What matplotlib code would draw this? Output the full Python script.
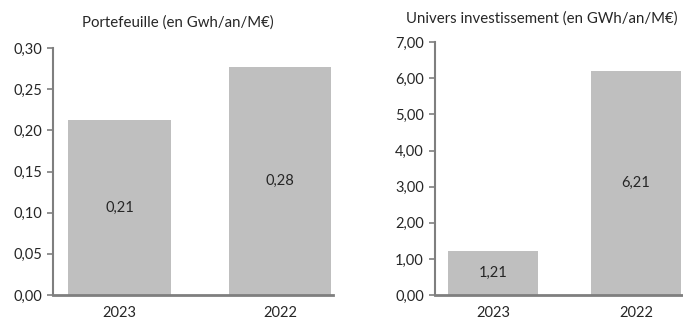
import matplotlib.pyplot as plt

plt.rcParams['font.family'] = ['Lato', 'DejaVu Sans']

years = ['2023', '2022']
portefeuille = [0.212, 0.277]
univers = [1.21, 6.21]

bar_color = '#bfbfbf'
axis_color = '#7f7f7f'
text_color = '#262626'


def fr(v):
    return '{:.2f}'.format(v).replace('.', ',')


def draw_panel(ax, values, title, ymax, step, xlim, width, title_x, title_pad):
    x = range(len(values))
    ax.bar(x, values, width=width, color=bar_color, zorder=2)
    for i, v in enumerate(values):
        ax.text(i, v / 2, fr(v), ha='center', va='center', fontsize=10.5, color=text_color)
    ax.set_xlim(*xlim)
    ax.set_ylim(0, ymax)
    ticks = [round(k * step, 2) for k in range(int(round(ymax / step)) + 1)]
    ax.set_yticks(ticks)
    ax.set_yticklabels([fr(t) for t in ticks], fontsize=10.5, color=text_color)
    ax.set_xticks(list(x))
    ax.set_xticklabels(years, fontsize=10.5, color=text_color)
    for s in ['top', 'right']:
        ax.spines[s].set_visible(False)
    ax.spines['left'].set_color(axis_color)
    ax.spines['left'].set_linewidth(1.5)
    ax.spines['bottom'].set_color(axis_color)
    ax.spines['bottom'].set_linewidth(2)
    ax.tick_params(axis='y', color=axis_color, length=4, width=1.2, pad=4)
    ax.tick_params(axis='x', length=0, pad=8)
    ax.set_title(title, fontsize=10.8, color=text_color, pad=title_pad, x=title_x)


fig = plt.figure(figsize=(6.83, 3.2), dpi=100)
ax1 = fig.add_axes([0.0776, 0.078, 0.41, 0.772])
ax2 = fig.add_axes([0.637, 0.078, 0.363, 0.79])

draw_panel(ax1, portefeuille, 'Portefeuille (en Gwh/an/M€)', 0.30, 0.05,
           (-0.414, 1.33), 0.64, 0.446, 15)
draw_panel(ax2, univers, 'Univers investissement (en GWh/an/M€)', 7.0, 1.0,
           (-0.406, 1.33), 0.63, 0.43, 14)

fig.savefig('out.png', dpi=100)
